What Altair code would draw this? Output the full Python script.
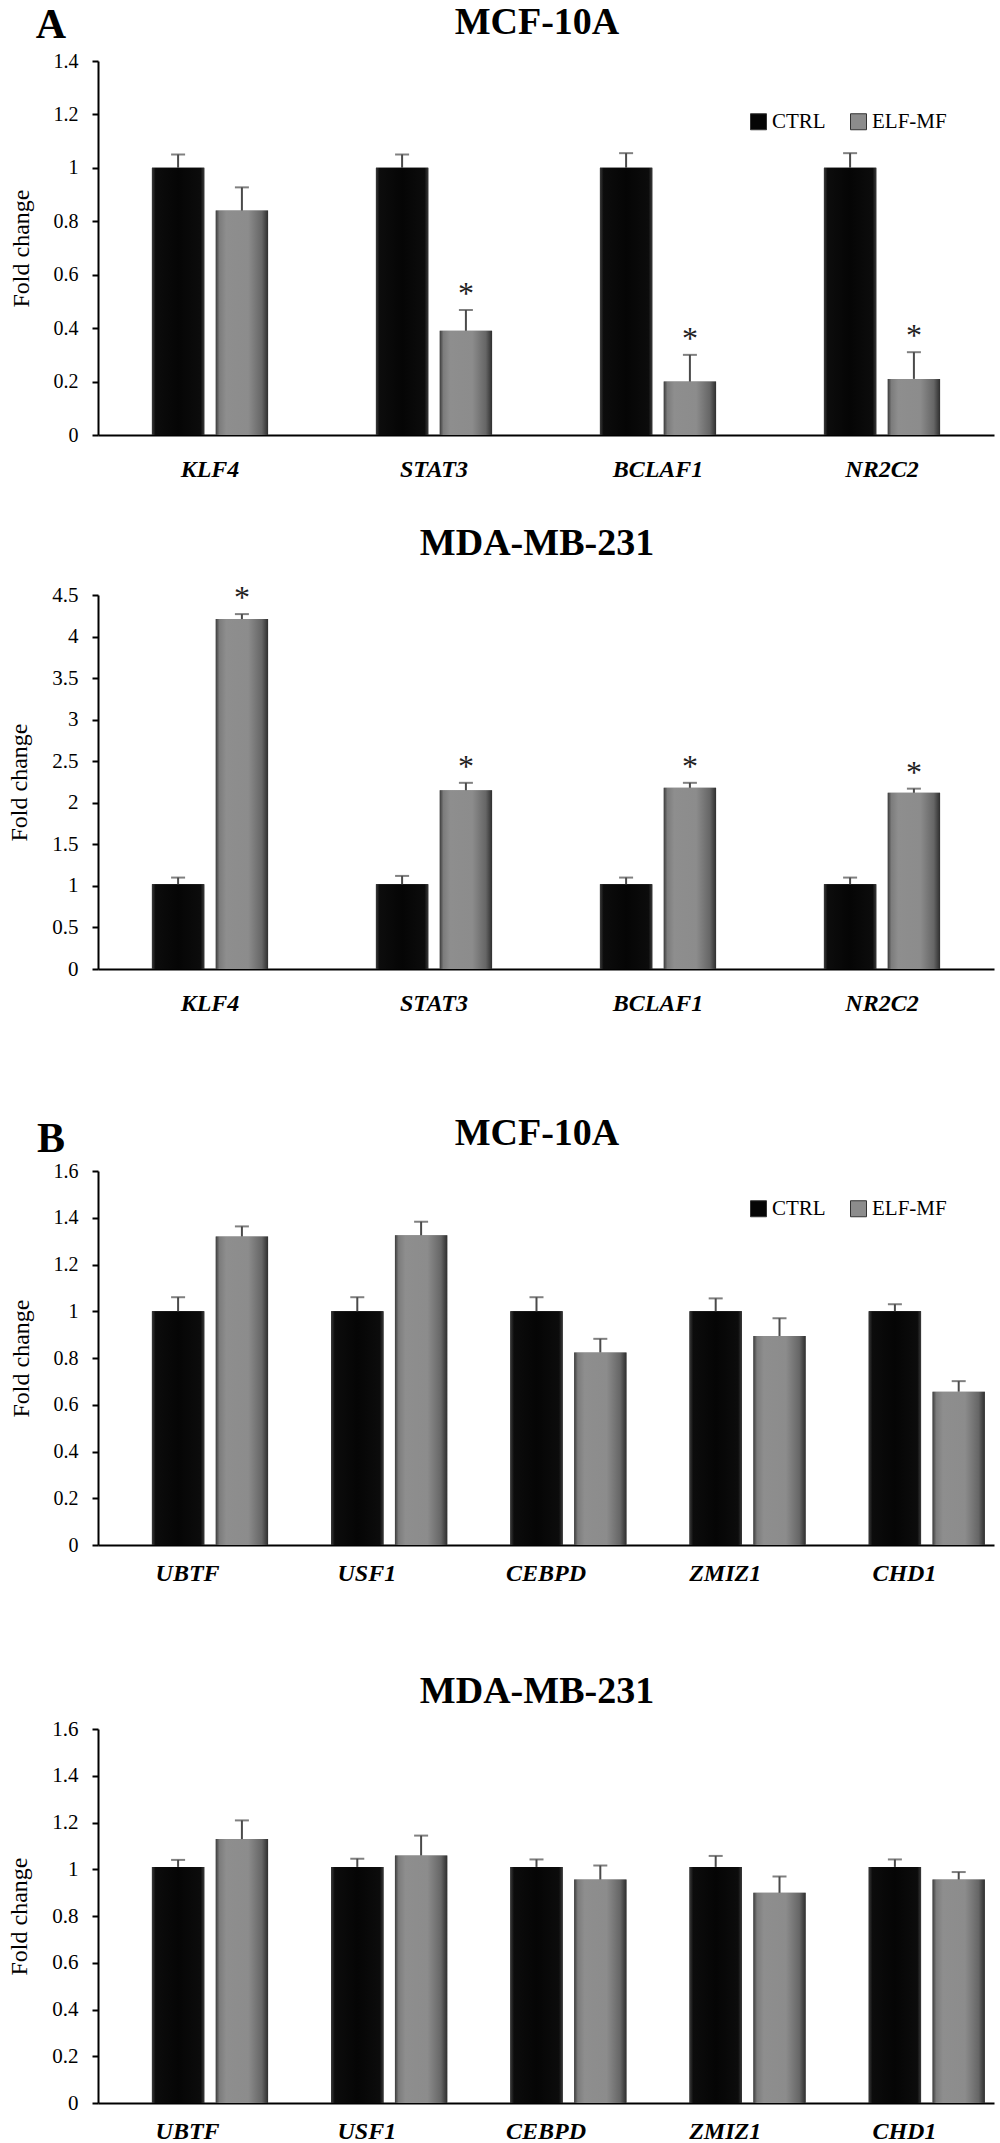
import altair as alt
import pandas as pd

SERIF = "Liberation Serif"
groups = ["CTRL", "ELF-MF"]

# ---- Panel A : MCF-10A ----
genes_a = ["KLF4", "STAT3", "BCLAF1", "NR2C2"]
mcf_a_ctrl = [1.00, 1.00, 1.00, 1.00]
mcf_a_ctrl_err = [0.05, 0.05, 0.055, 0.055]
mcf_a_elf = [0.84, 0.39, 0.20, 0.21]
mcf_a_elf_err = [0.087, 0.078, 0.10, 0.10]
mcf_a_sig = [False, True, True, True]

# ---- Panel A : MDA-MB-231 ----
mda_a_ctrl = [1.02, 1.02, 1.02, 1.02]
mda_a_ctrl_err = [0.08, 0.10, 0.08, 0.08]
mda_a_elf = [4.21, 2.15, 2.18, 2.12]
mda_a_elf_err = [0.06, 0.09, 0.06, 0.05]
mda_a_sig = [True, True, True, True]

# ---- Panel B : MCF-10A ----
genes_b = ["UBTF", "USF1", "CEBPD", "ZMIZ1", "CHD1"]
mcf_b_ctrl = [1.00, 1.00, 1.00, 1.00, 1.00]
mcf_b_ctrl_err = [0.06, 0.06, 0.06, 0.055, 0.03]
mcf_b_elf = [1.32, 1.325, 0.824, 0.894, 0.656]
mcf_b_elf_err = [0.043, 0.058, 0.058, 0.076, 0.045]
mcf_b_sig = [False, False, False, False, False]

# ---- Panel B : MDA-MB-231 ----
mda_b_ctrl = [1.01, 1.01, 1.01, 1.01, 1.01]
mda_b_ctrl_err = [0.03, 0.035, 0.032, 0.047, 0.032]
mda_b_elf = [1.129, 1.059, 0.956, 0.899, 0.956]
mda_b_elf_err = [0.08, 0.085, 0.06, 0.07, 0.032]
mda_b_sig = [False, False, False, False, False]

ticks_a1 = [0, 0.2, 0.4, 0.6, 0.8, 1.0, 1.2, 1.4]
ticks_a2 = [0, 0.5, 1, 1.5, 2, 2.5, 3, 3.5, 4, 4.5]
ticks_b = [0, 0.2, 0.4, 0.6, 0.8, 1.0, 1.2, 1.4, 1.6]

W, H = 896, 374

ctrl_grad = {"gradient": "linear", "x1": 0, "x2": 1, "y1": 0, "y2": 0,
             "stops": [{"offset": 0, "color": "#3a3a3a"}, {"offset": 0.07, "color": "#0c0c0c"},
                       {"offset": 0.5, "color": "#050505"}, {"offset": 0.93, "color": "#0c0c0c"},
                       {"offset": 1, "color": "#3a3a3a"}]}
elf_grad = {"gradient": "linear", "x1": 0, "x2": 1, "y1": 0, "y2": 0,
            "stops": [{"offset": 0, "color": "#3c3c3c"}, {"offset": 0.07, "color": "#7c7c7c"},
                      {"offset": 0.2, "color": "#8e8e8e"}, {"offset": 0.62, "color": "#8c8c8c"},
                      {"offset": 0.88, "color": "#666666"}, {"offset": 1, "color": "#2e2e2e"}]}


def panel(genes, ctrl, ctrl_err, elf, elf_err, sig, ymax, ticks, title, title_y,
          legend_y, label_pad, tick_font, letter=None, letter_y=0):
    rows = []
    for i, g in enumerate(genes):
        rows.append(dict(gene=g, group="CTRL", value=ctrl[i], err=ctrl_err[i], sig=False))
        rows.append(dict(gene=g, group="ELF-MF", value=elf[i], err=elf_err[i], sig=sig[i]))
    df = pd.DataFrame(rows)
    df["top"] = df["value"] + df["err"]

    y_scale = alt.Scale(domain=[0, ymax], nice=False, zero=True)
    y_axis = alt.Axis(values=ticks, format="~g", title="Fold change", titleFont=SERIF,
                      titleFontSize=24, titleFontWeight="normal", titleColor="black",
                      titlePadding=20, labelFont=SERIF, labelFontSize=tick_font,
                      labelColor="black", labelPadding=14, tickColor="black", tickWidth=2,
                      tickSize=6, domainColor="black", domainWidth=2, grid=False)
    x_enc = alt.X("gene:N", sort=genes, scale=alt.Scale(paddingInner=0, paddingOuter=0),
                  axis=alt.Axis(title=None, labelAngle=0, labelFont=SERIF, labelFontSize=24,
                                labelFontStyle="italic", labelFontWeight="bold",
                                labelColor="black", ticks=False, tickSize=0,
                                labelPadding=label_pad, domainColor="black", domainWidth=2,
                                grid=False))
    xo_enc = alt.XOffset("group:N", sort=groups,
                         scale=alt.Scale(domain=groups, paddingInner=0.18, paddingOuter=0.845))

    base = alt.Chart(df).encode(x=x_enc, xOffset=xo_enc)

    bars = base.mark_bar().encode(
        y=alt.Y("value:Q", scale=y_scale, axis=y_axis),
        color=alt.Color("group:N", sort=groups,
                        scale=alt.Scale(domain=groups, range=["#050505", "#8c8c8c"]),
                        legend=alt.Legend(title=None, orient="none", legendX=650,
                                          legendY=legend_y, direction="horizontal",
                                          symbolType="square", symbolSize=256,
                                          symbolStrokeColor="#333333", symbolStrokeWidth=1,
                                          labelFont=SERIF, labelFontSize=21, labelColor="black",
                                          labelOffset=3, columnPadding=22)),
    )
    ctrl_bars = base.transform_filter("datum.group == 'CTRL'").mark_bar(
        fill=ctrl_grad).encode(y=alt.Y("value:Q", scale=y_scale, axis=y_axis))
    elf_bars = base.transform_filter("datum.group == 'ELF-MF'").mark_bar(
        fill=elf_grad).encode(y=alt.Y("value:Q", scale=y_scale, axis=y_axis))

    err_rule = base.mark_rule(color="#4a4a4a", strokeWidth=2).encode(
        y=alt.Y("value:Q", scale=y_scale, axis=y_axis), y2="top:Q")
    err_cap = base.mark_tick(color="#4a4a4a", thickness=2, size=14, orient="horizontal").encode(
        y=alt.Y("top:Q", scale=y_scale, axis=y_axis))
    stars = base.transform_filter("datum.sig").mark_text(
        text="*", font=SERIF, fontSize=32, color="#222222", baseline="alphabetic", dy=-6).encode(
        y=alt.Y("top:Q", scale=y_scale, axis=y_axis))

    head = alt.Chart(pd.DataFrame({"t": [title]})).mark_text(
        font=SERIF, fontSize=38, fontWeight="bold", color="black", align="center",
        baseline="middle").encode(text="t:N", x=alt.value(439), y=alt.value(title_y))

    layers = [bars, ctrl_bars, elf_bars, err_rule, err_cap, stars, head]
    if letter:
        lab = alt.Chart(pd.DataFrame({"t": [letter]})).mark_text(
            font=SERIF, fontSize=42, fontWeight="bold", color="black", align="center",
            baseline="middle").encode(text="t:N", x=alt.value(-47), y=alt.value(letter_y))
        layers.append(lab)

    return alt.layer(*layers).properties(width=W, height=H)


p1 = panel(genes_a, mcf_a_ctrl, mcf_a_ctrl_err, mcf_a_elf, mcf_a_elf_err, mcf_a_sig,
           1.4, ticks_a1, "MCF-10A", -38, 50, 22, 20, "A", -36)
p2 = panel(genes_a, mda_a_ctrl, mda_a_ctrl_err, mda_a_elf, mda_a_elf_err, mda_a_sig,
           4.5, ticks_a2, "MDA-MB-231", -51, 54, 22, 21)
p3 = panel(genes_b, mcf_b_ctrl, mcf_b_ctrl_err, mcf_b_elf, mcf_b_elf_err, mcf_b_sig,
           1.6, ticks_b, "MCF-10A", -37, 27, 16, 20, "B", -32)
p4 = panel(genes_b, mda_b_ctrl, mda_b_ctrl_err, mda_b_elf, mda_b_elf_err, mda_b_sig,
           1.6, ticks_b, "MDA-MB-231", -37, 27, 16, 21)

top = alt.vconcat(p1, p2, spacing=44)
bottom = alt.vconcat(p3, p4, spacing=88)

chart = alt.vconcat(top, bottom, spacing=100).properties(
    padding={"left": 7, "top": 4, "right": 4, "bottom": 0},
    background="white",
).configure_view(strokeWidth=0).resolve_scale(color="independent")

chart.save("out.html", embed_options={"renderer": "svg", "actions": False})
